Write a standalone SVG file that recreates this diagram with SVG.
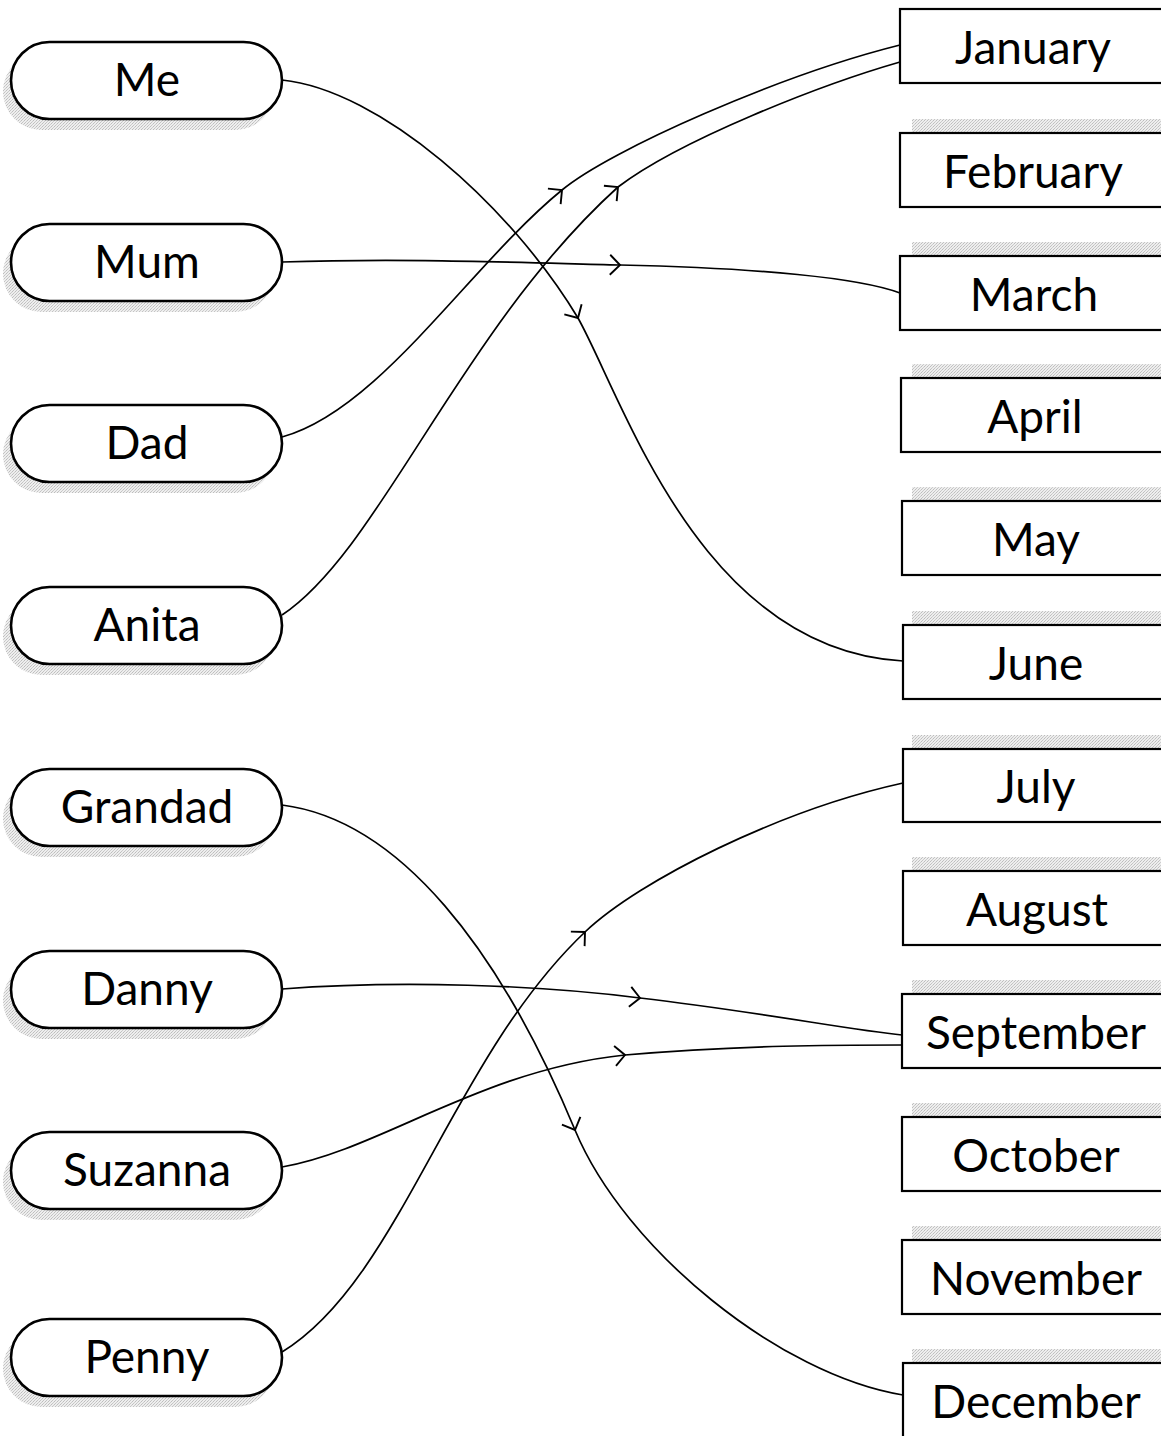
<svg xmlns="http://www.w3.org/2000/svg" width="1161" height="1436" viewBox="0 0 1161 1436">
  <style>
    .pill { fill: #fff; stroke: #000; stroke-width: 2.6; }
    .box { fill: #fff; stroke: #000; stroke-width: 2.2; }
    .shade { fill: url(#dither); }
    .label { font-family: "Lato", "Liberation Sans", sans-serif; font-size: 46px; fill: #000; text-anchor: middle; }
    .link { fill: none; stroke: #000; stroke-width: 1.7; marker-mid: url(#vee); }
  </style>
  <defs>
    <!-- grainy light-grey fill for drop shadows -->
    <pattern id="dither" width="3" height="3" patternUnits="userSpaceOnUse">
      <rect width="3" height="3" fill="#eeeeee"/>
      <rect x="0" y="0" width="1" height="1" fill="#bdbdbd"/>
      <rect x="2" y="1" width="1" height="1" fill="#cccccc"/>
      <rect x="1" y="2" width="1" height="1" fill="#c4c4c4"/>
    </pattern>
    <marker id="vee" markerUnits="userSpaceOnUse" markerWidth="24" markerHeight="24" viewBox="-14 -12 16 24" refX="0" refY="0" orient="auto">
      <path d="M-10,-10 L0,0 L-10,10" fill="none" stroke="#000" stroke-width="1.9" stroke-linejoin="miter"/>
    </marker>
  </defs>

  <!-- people -->
  <g id="me"><rect class="shade" x="3" y="53" width="271" height="77" rx="38.5"/><rect class="pill" x="11" y="42" width="271" height="77" rx="38.5"/><text class="label" x="147" y="96">Me</text></g>
  <g id="mum"><rect class="shade" x="3" y="235" width="271" height="77" rx="38.5"/><rect class="pill" x="11" y="224" width="271" height="77" rx="38.5"/><text class="label" x="147" y="278">Mum</text></g>
  <g id="dad"><rect class="shade" x="3" y="416" width="271" height="77" rx="38.5"/><rect class="pill" x="11" y="405" width="271" height="77" rx="38.5"/><text class="label" x="147" y="459">Dad</text></g>
  <g id="anita"><rect class="shade" x="3" y="598" width="271" height="77" rx="38.5"/><rect class="pill" x="11" y="587" width="271" height="77" rx="38.5"/><text class="label" x="147" y="641">Anita</text></g>
  <g id="grandad"><rect class="shade" x="3" y="780" width="271" height="77" rx="38.5"/><rect class="pill" x="11" y="769" width="271" height="77" rx="38.5"/><text class="label" x="147" y="823">Grandad</text></g>
  <g id="danny"><rect class="shade" x="3" y="962" width="271" height="77" rx="38.5"/><rect class="pill" x="11" y="951" width="271" height="77" rx="38.5"/><text class="label" x="147" y="1005">Danny</text></g>
  <g id="suzanna"><rect class="shade" x="3" y="1143" width="271" height="77" rx="38.5"/><rect class="pill" x="11" y="1132" width="271" height="77" rx="38.5"/><text class="label" x="147" y="1186">Suzanna</text></g>
  <g id="penny"><rect class="shade" x="3" y="1330" width="271" height="77" rx="38.5"/><rect class="pill" x="11" y="1319" width="271" height="77" rx="38.5"/><text class="label" x="147" y="1373">Penny</text></g>

  <!-- months -->
  <g id="january"><rect class="box" x="900" y="9" width="270" height="74"/><text class="label" x="1033" y="64">January</text></g>
  <g id="february"><rect class="shade" x="912" y="119" width="260" height="14"/><rect class="box" x="900" y="133" width="270" height="74"/><text class="label" x="1033" y="188">February</text></g>
  <g id="march"><rect class="shade" x="912" y="242" width="260" height="14"/><rect class="box" x="900" y="256" width="270" height="74"/><text class="label" x="1034" y="311">March</text></g>
  <g id="april"><rect class="shade" x="912" y="364" width="260" height="14"/><rect class="box" x="901" y="378" width="270" height="74"/><text class="label" x="1035" y="433">April</text></g>
  <g id="may"><rect class="shade" x="912" y="487" width="260" height="14"/><rect class="box" x="902" y="501" width="270" height="74"/><text class="label" x="1036" y="556">May</text></g>
  <g id="june"><rect class="shade" x="912" y="611" width="260" height="14"/><rect class="box" x="903" y="625" width="270" height="74"/><text class="label" x="1036" y="680">June</text></g>
  <g id="july"><rect class="shade" x="912" y="735" width="260" height="14"/><rect class="box" x="903" y="749" width="270" height="73"/><text class="label" x="1036" y="803">July</text></g>
  <g id="august"><rect class="shade" x="912" y="857" width="260" height="14"/><rect class="box" x="903" y="871" width="270" height="74"/><text class="label" x="1037" y="926">August</text></g>
  <g id="september"><rect class="shade" x="912" y="980" width="260" height="14"/><rect class="box" x="902" y="994" width="270" height="74"/><text class="label" x="1036" y="1049">September</text></g>
  <g id="october"><rect class="shade" x="912" y="1103" width="260" height="14"/><rect class="box" x="902" y="1117" width="270" height="74"/><text class="label" x="1036" y="1172">October</text></g>
  <g id="november"><rect class="shade" x="912" y="1226" width="260" height="14"/><rect class="box" x="902" y="1240" width="270" height="74"/><text class="label" x="1036" y="1295">November</text></g>
  <g id="december"><rect class="shade" x="912" y="1349" width="260" height="14"/><rect class="box" x="903" y="1363" width="270" height="80"/><text class="label" x="1036" y="1418">December</text></g>

  <!-- connectors, arrowhead at the joint of each two-part curve -->
  <g id="connectors">
    <path class="link" d="M282,80 C380,90 510,205 578,318 C623,398 700,650 903,661"/>
    <path class="link" d="M282,262 C400,258 500,262 620,265 C760,268 860,278 900,293"/>
    <path class="link" d="M282,437 C380,410 470,265 562,190 C610,150 780,75 900,45"/>
    <path class="link" d="M282,615 C380,550 460,330 618,187 C680,140 820,85 900,62"/>
    <path class="link" d="M282,805 C400,820 500,950 575,1130 C625,1250 780,1375 903,1395"/>
    <path class="link" d="M282,989 C400,980 540,985 640,998 C760,1012 850,1030 902,1035"/>
    <path class="link" d="M282,1167 C380,1150 480,1070 625,1055 C740,1045 840,1045 902,1045"/>
    <path class="link" d="M282,1352 C400,1280 450,1060 585,932 C640,880 780,810 903,783"/>
  </g>
</svg>
